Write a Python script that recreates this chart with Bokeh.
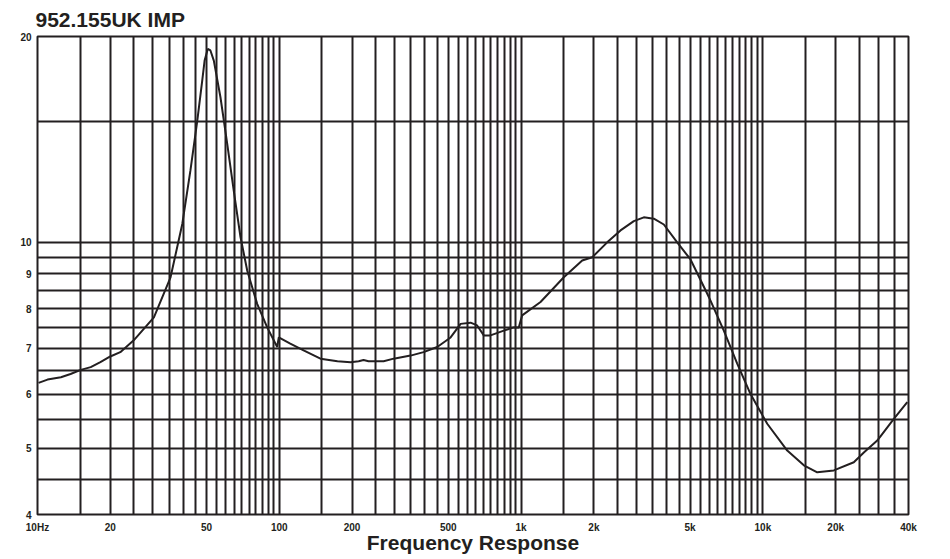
from bokeh.plotting import figure
from bokeh.models import FixedTicker, Range1d
from bokeh.embed import file_html
from bokeh.resources import INLINE

# Impedance curve (Hz, ohms)
freq = [10.1, 11.0, 12.5, 13.7, 15.1, 16.6, 18.2, 20.0, 22.0, 25.0,
        30.3, 35.5, 39.7, 42.9, 45.8, 48.0, 49.1, 50.6, 51.9, 53.6,
        57.1, 60.9, 64.8, 69.1, 73.7, 81.0, 89.1, 98.0, 99.5, 111,
        126, 148, 174, 197, 213, 223, 234, 270, 297, 349,
        395, 450, 511, 536, 562, 618, 658, 701, 747, 848,
        933, 978, 1010, 1203, 1502, 1789, 1968, 2270, 2577, 2925,
        3217, 3539, 3892, 4421, 5019, 5886, 6071, 6891, 7829, 8887,
        10420, 12606, 14766, 16776, 19643, 23764, 26141, 29700, 34782, 39540]
imp = [6.23, 6.30, 6.35, 6.42, 6.51, 6.57, 6.68, 6.81, 6.91, 7.19,
       7.77, 8.89, 10.64, 12.74, 15.07, 17.24, 18.44, 19.18, 19.08, 18.44,
       16.30, 13.93, 11.90, 10.18, 9.09, 8.13, 7.51, 7.03, 7.26, 7.11,
       6.95, 6.76, 6.70, 6.68, 6.70, 6.73, 6.70, 6.70, 6.76, 6.83,
       6.91, 7.03, 7.26, 7.43, 7.60, 7.63, 7.56, 7.31, 7.31, 7.43,
       7.51, 7.51, 7.82, 8.18, 8.89, 9.41, 9.51, 10.00, 10.41, 10.74,
       10.88, 10.83, 10.62, 10.00, 9.44, 8.41, 8.22, 7.43, 6.65, 6.00,
       5.43, 4.96, 4.72, 4.61, 4.64, 4.77, 4.93, 5.13, 5.52, 5.84]

# Tick labels
x_ticks = [10, 20, 50, 100, 200, 500, 1000, 2000, 5000, 10000, 20000, 40000]
x_tick_labels = ["10Hz", "20", "50", "100", "200", "500", "1k", "2k", "5k", "10k", "20k", "40k"]
y_ticks = [4, 5, 6, 7, 8, 9, 10, 20]
y_tick_labels = ["4", "5", "6", "7", "8", "9", "10", "20"]

# Grid line positions
x_grid = [m * d for d in (10, 100, 1000) for m in
          (1, 1.5, 2, 2.5, 3, 3.5, 4, 4.5, 5, 5.5, 6, 6.5, 7, 7.5, 8, 8.5, 9, 9.5)] + \
         [10000, 15000, 20000, 25000, 30000, 35000, 40000]
y_grid = [4, 4.5, 5, 5.5, 6, 6.5, 7, 7.5, 8, 8.5, 9, 9.5, 10, 15, 20]

INK = "#231f20"
FONT = "Liberation Sans"

p = figure(frame_width=871, frame_height=478, x_axis_type="log", y_axis_type="log",
           x_range=Range1d(10, 40000), y_range=Range1d(4, 20),
           output_backend="svg", toolbar_location=None,
           min_border_left=37, min_border_right=20,
           min_border_top=36, min_border_bottom=44,
           background_fill_color="white", border_fill_color="white")

p.title.text = "952.155UK IMP"
p.title.text_font = FONT
p.title.text_font_size = "21px"
p.title.text_font_style = "bold"
p.title.text_color = INK
p.title.align = "left"
p.title.offset = -2
p.title.standoff = 11

p.outline_line_color = INK
p.outline_line_width = 2

for ax in (p.xaxis[0], p.yaxis[0]):
    ax.axis_line_color = None
    ax.major_tick_line_color = None
    ax.minor_tick_line_color = None
    ax.major_label_text_font = FONT
    ax.major_label_text_font_size = "10px"
    ax.major_label_text_font_style = "bold"
    ax.major_label_text_color = INK

p.xaxis.ticker = FixedTicker(ticks=x_ticks)
p.xaxis.major_label_overrides = dict(zip(x_ticks, x_tick_labels))
p.xaxis.major_label_standoff = 1
p.xaxis.axis_label = "Frequency Response"
p.xaxis.axis_label_text_font = FONT
p.xaxis.axis_label_text_font_size = "21px"
p.xaxis.axis_label_text_font_style = "bold"
p.xaxis.axis_label_text_color = INK
p.xaxis.axis_label_standoff = -5

p.yaxis.ticker = FixedTicker(ticks=y_ticks)
p.yaxis.major_label_overrides = dict(zip(y_ticks, y_tick_labels))
p.yaxis.major_label_standoff = 0

p.xgrid.ticker = FixedTicker(ticks=x_grid)
p.ygrid.ticker = FixedTicker(ticks=y_grid)
for g in (p.xgrid[0], p.ygrid[0]):
    g.grid_line_color = INK
    g.grid_line_width = 2
    g.grid_line_alpha = 1.0
    g.minor_grid_line_color = None

p.line(freq, imp, line_color=INK, line_width=2)

open("out.html", "w").write(file_html(p, INLINE))
